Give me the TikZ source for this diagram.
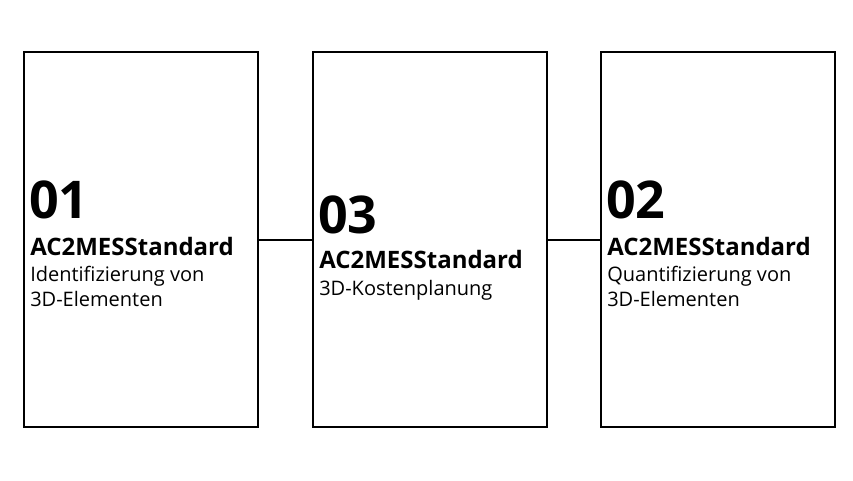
\documentclass[tikz,border=0pt]{standalone}
\usepackage{fontspec}
\setmainfont{Open Sans}
\usepackage{tikz}
\usetikzlibrary{positioning}
\tikzset{
    card/.style={draw, line width=1.5pt, minimum width=175.5pt, minimum height=281pt, inner sep=0pt}, % Kasten
    num/.style={anchor=base west, inner sep=0pt, font=\fontsize{39}{42}\selectfont\bfseries}, % Nummer
    std/.style={anchor=base west, inner sep=0pt, font=\fontsize{18}{21}\selectfont\bfseries}, % Titel
    txt/.style={anchor=base west, inner sep=0pt, font=\fontsize{15}{19}\selectfont} % Beschreibung
}
\begin{document}
\begin{tikzpicture}[x=0.75pt, y=-0.75pt]
    \useasboundingbox (0,0) rectangle (853,480);

    \node[card] (b1) at (141,239.5) {};
    \node[card] (b2) at (429.5,239.5) {};
    \node[card] (b3) at (717.5,239.5) {};

    \draw[line width=1.5pt] (b1.east) -- (b2.west);
    \draw[line width=1.5pt] (b2.east) -- (b3.west);

    % 01
    \node[num] (n1) at (29,218) {01};
    \node[std] (s1) at (30,255) {AC2MESStandard};
    \node[txt] (l1a) at (30,281) {Identifizierung von};
    \node[txt] (l1b) at (30,306) {3D-Elementen};

    % 03
    \node[num] (n2) at (318,233) {03};
    \node[std] (s2) at (319,268) {AC2MESStandard};
    \node[txt] (l2a) at (319,295) {3D-Kostenplanung};

    % 02
    \node[num] (n3) at (606,218) {02};
    \node[std] (s3) at (607,255) {AC2MESStandard};
    \node[txt] (l3a) at (607,281) {Quantifizierung von};
    \node[txt] (l3b) at (607,306) {3D-Elementen};
\end{tikzpicture}
\end{document}
